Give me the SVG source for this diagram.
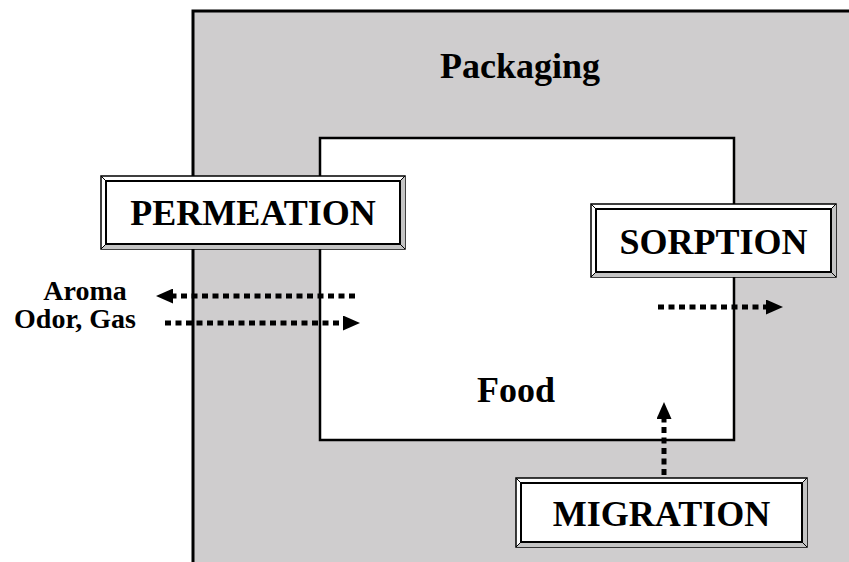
<svg xmlns="http://www.w3.org/2000/svg" width="849" height="562" viewBox="0 0 849 562">
<style>
.lbl{font-family:"Liberation Serif","Times New Roman",serif;font-weight:bold;fill:#000;text-anchor:middle}
.big{font-size:36px}
.small{font-size:28px}
.frame{fill:#ffffff;stroke:#000;stroke-width:1.5}
.bevelD{fill:#c4c4c4;stroke:none}
.inner{fill:#ffffff;stroke:#000;stroke-width:2}
.corner{stroke:#000;stroke-width:1;fill:none}
.dot{stroke:#000;stroke-width:5;stroke-dasharray:6 4.5;fill:none;marker-end:url(#head)}
</style>
<defs>
<marker id="head" viewBox="0 0 17 15" refX="0" refY="7.5" markerWidth="17" markerHeight="15" markerUnits="userSpaceOnUse" orient="auto">
<path d="M0,0 L17,7.5 L0,15 Z" fill="#000"/>
</marker>
</defs>
<rect width="849" height="562" fill="#ffffff"/>
<g id="packaging">
<rect x="193" y="11" width="700" height="600" fill="#cfcdce" stroke="#000" stroke-width="3"/>
<text class="lbl big" x="520" y="78">Packaging</text>
</g>
<g id="food">
<rect x="320" y="138" width="414" height="302" fill="#ffffff" stroke="#000" stroke-width="2.5"/>
<text class="lbl big" x="516" y="402">Food</text>
</g>
<g id="connectors">
<line class="dot" x1="355" y1="296" x2="173" y2="296"/>
<line class="dot" x1="165" y1="323" x2="343" y2="323"/>
<line class="dot" x1="658" y1="307" x2="766" y2="307"/>
<line class="dot" x1="664" y1="475" x2="664" y2="419"/>
</g>
<g id="permeation">
<rect class="frame" x="101" y="176" width="304" height="73"/>
<path class="bevelD" d="M101,249 L106,244 L400,244 L405,249 Z M405,176 L400,181 L400,244 L405,249 Z"/>
<path class="corner" d="M101,176 L106,181 M405,176 L400,181 M101,249 L106,244 M405,249 L400,244"/>
<rect class="inner" x="106" y="181" width="294" height="63"/>
<text class="lbl big" x="253" y="225">PERMEATION</text>
</g>
<g id="sorption">
<rect class="frame" x="591" y="204" width="245" height="73"/>
<path class="bevelD" d="M591,277 L596,272 L831,272 L836,277 Z M836,204 L831,209 L831,272 L836,277 Z"/>
<path class="corner" d="M591,204 L596,209 M836,204 L831,209 M591,277 L596,272 M836,277 L831,272"/>
<rect class="inner" x="596" y="209" width="235" height="63"/>
<text class="lbl big" x="713.5" y="254">SORPTION</text>
</g>
<g id="migration">
<rect class="frame" x="516" y="478" width="291" height="69"/>
<path class="bevelD" d="M516,547 L521,542 L802,542 L807,547 Z M807,478 L802,483 L802,542 L807,547 Z"/>
<path class="corner" d="M516,478 L521,483 M807,478 L802,483 M516,547 L521,542 M807,547 L802,542"/>
<rect class="inner" x="521" y="483" width="281" height="59"/>
<text class="lbl big" x="661.5" y="526">MIGRATION</text>
</g>
<g id="aroma-label">
<text class="lbl small" x="85" y="300">Aroma</text>
<text class="lbl small" x="75" y="328">Odor, Gas</text>
</g>
</svg>
